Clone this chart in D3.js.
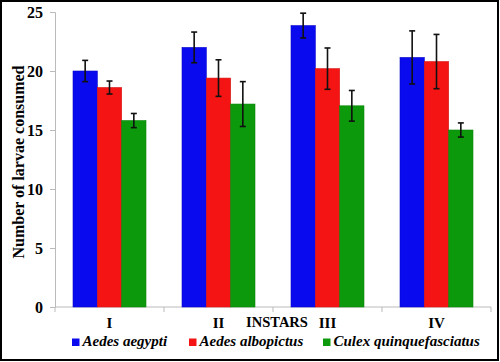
<!DOCTYPE html>
<html>
<head>
<meta charset="utf-8">
<script src="https://cdn.jsdelivr.net/npm/d3@7"></script>
<style>
  body { margin: 0; background: #fff; }
  svg { display: block; }
</style>
</head>
<body>
<div id="chart"></div>
<script>
// data
const instars = ["I", "II", "III", "IV"];
const species = ["Aedes aegypti", "Aedes albopictus", "Culex quinquefasciatus"];
const aegypti = [20.0, 22.0, 23.85, 21.15];
const albopictus = [18.6, 19.4, 20.2, 20.8];
const culex = [15.8, 17.2, 17.05, 15.0];
const aegyptiErr = [0.9, 1.3, 1.05, 2.25];
const albopictusErr = [0.55, 1.55, 1.75, 2.3];
const culexErr = [0.6, 1.9, 1.3, 0.6];
const yTicks = [0, 5, 10, 15, 20, 25];
const colors = ["#0a0aee", "#f51414", "#0c990c"];

const width = 500, height = 362;
const plotLeft = 55, plotRight = 491, plotTop = 12, plotBottom = 307;
const serif = "Liberation Serif, Times New Roman, serif";

const svg = d3.select("#chart").append("svg")
    .attr("width", width)
    .attr("height", height);

svg.append("rect")
    .attr("x", 1).attr("y", 1)
    .attr("width", width - 3).attr("height", height - 3)
    .attr("fill", "#fff")
    .attr("stroke", "#000")
    .attr("stroke-width", 2);

const x = d3.scaleBand().domain(instars).range([plotLeft, plotRight]).paddingInner(0).paddingOuter(0);
const xs = d3.scaleBand().domain(species).range([0, x.bandwidth()]).paddingInner(0).paddingOuter(0.74);
const y = d3.scaleLinear().domain([0, 25]).range([plotBottom, plotTop]);

const series = [aegypti, albopictus, culex];
const errs = [aegyptiErr, albopictusErr, culexErr];

const rows = [];
instars.forEach((inst, i) => {
    species.forEach((sp, j) => {
        rows.push({ inst, sp, j, v: series[j][i], e: errs[j][i] });
    });
});

// axes
const yAxis = svg.append("g")
    .attr("transform", `translate(${plotLeft},0)`)
    .call(d3.axisLeft(y).tickValues(yTicks).tickSize(5).tickPadding(7));
yAxis.select(".domain").attr("stroke", "#bbb");
yAxis.selectAll(".tick line").attr("stroke", "#bbb");
yAxis.selectAll("text")
    .attr("font-family", serif)
    .attr("font-weight", "bold")
    .attr("font-size", 16)
    .attr("fill", "#000");

const xAxisG = svg.append("g").attr("transform", `translate(0,${plotBottom})`);
xAxisG.append("line")
    .attr("x1", plotLeft).attr("x2", plotRight)
    .attr("stroke", "#bbb");
xAxisG.selectAll(".sep")
    .data(instars.concat(["end"]))
    .join("line")
    .attr("x1", (d, i) => i < instars.length ? x(d) : plotRight)
    .attr("x2", (d, i) => i < instars.length ? x(d) : plotRight)
    .attr("y1", 0).attr("y2", 5)
    .attr("stroke", "#bbb");

// bars
const bars = svg.append("g");
bars.selectAll("rect")
    .data(rows)
    .join("rect")
    .attr("x", d => x(d.inst) + xs(d.sp))
    .attr("y", d => y(d.v))
    .attr("width", xs.bandwidth())
    .attr("height", d => y(0) - y(d.v))
    .attr("fill", d => colors[d.j])
    .attr("stroke", d => d3.color(colors[d.j]).darker(0.4))
    .attr("stroke-width", 0.6);

// error bars
const eb = svg.append("g").attr("stroke", "#111").attr("stroke-width", 1.6);
rows.forEach(d => {
    const cx = x(d.inst) + xs(d.sp) + xs.bandwidth() / 2;
    eb.append("line").attr("x1", cx).attr("x2", cx).attr("y1", y(d.v + d.e)).attr("y2", y(d.v - d.e));
    eb.append("line").attr("x1", cx - 3).attr("x2", cx + 3).attr("y1", y(d.v + d.e)).attr("y2", y(d.v + d.e));
    eb.append("line").attr("x1", cx - 3).attr("x2", cx + 3).attr("y1", y(d.v - d.e)).attr("y2", y(d.v - d.e));
});

// category labels
svg.append("g").selectAll("text")
    .data(instars)
    .join("text")
    .attr("x", d => x(d) + x.bandwidth() / 2)
    .attr("y", 328)
    .attr("text-anchor", "middle")
    .attr("font-family", serif)
    .attr("font-weight", "bold")
    .attr("font-size", 15)
    .text(d => d);

svg.append("text")
    .attr("x", 277).attr("y", 327)
    .attr("text-anchor", "middle")
    .attr("font-family", serif)
    .attr("font-weight", "bold")
    .attr("font-size", 14.5)
    .text("INSTARS");

// y title
svg.append("text")
    .attr("transform", "translate(24,162) rotate(-90)")
    .attr("text-anchor", "middle")
    .attr("font-family", serif)
    .attr("font-weight", "bold")
    .attr("font-size", 16)
    .text("Number of larvae consumed");

// legend
const legX = [72, 189, 323];
const leg = svg.append("g").selectAll("g")
    .data(species)
    .join("g")
    .attr("transform", (d, i) => `translate(${legX[i]},346)`);
leg.append("rect")
    .attr("x", 0).attr("y", -7.5)
    .attr("width", 7.5).attr("height", 7.5)
    .attr("fill", (d, i) => colors[i]);
leg.append("text")
    .attr("x", 10.5).attr("y", 0)
    .attr("font-family", serif)
    .attr("font-weight", "bold")
    .attr("font-style", "italic")
    .attr("font-size", 15)
    .text(d => d);
</script>
</body>
</html>
